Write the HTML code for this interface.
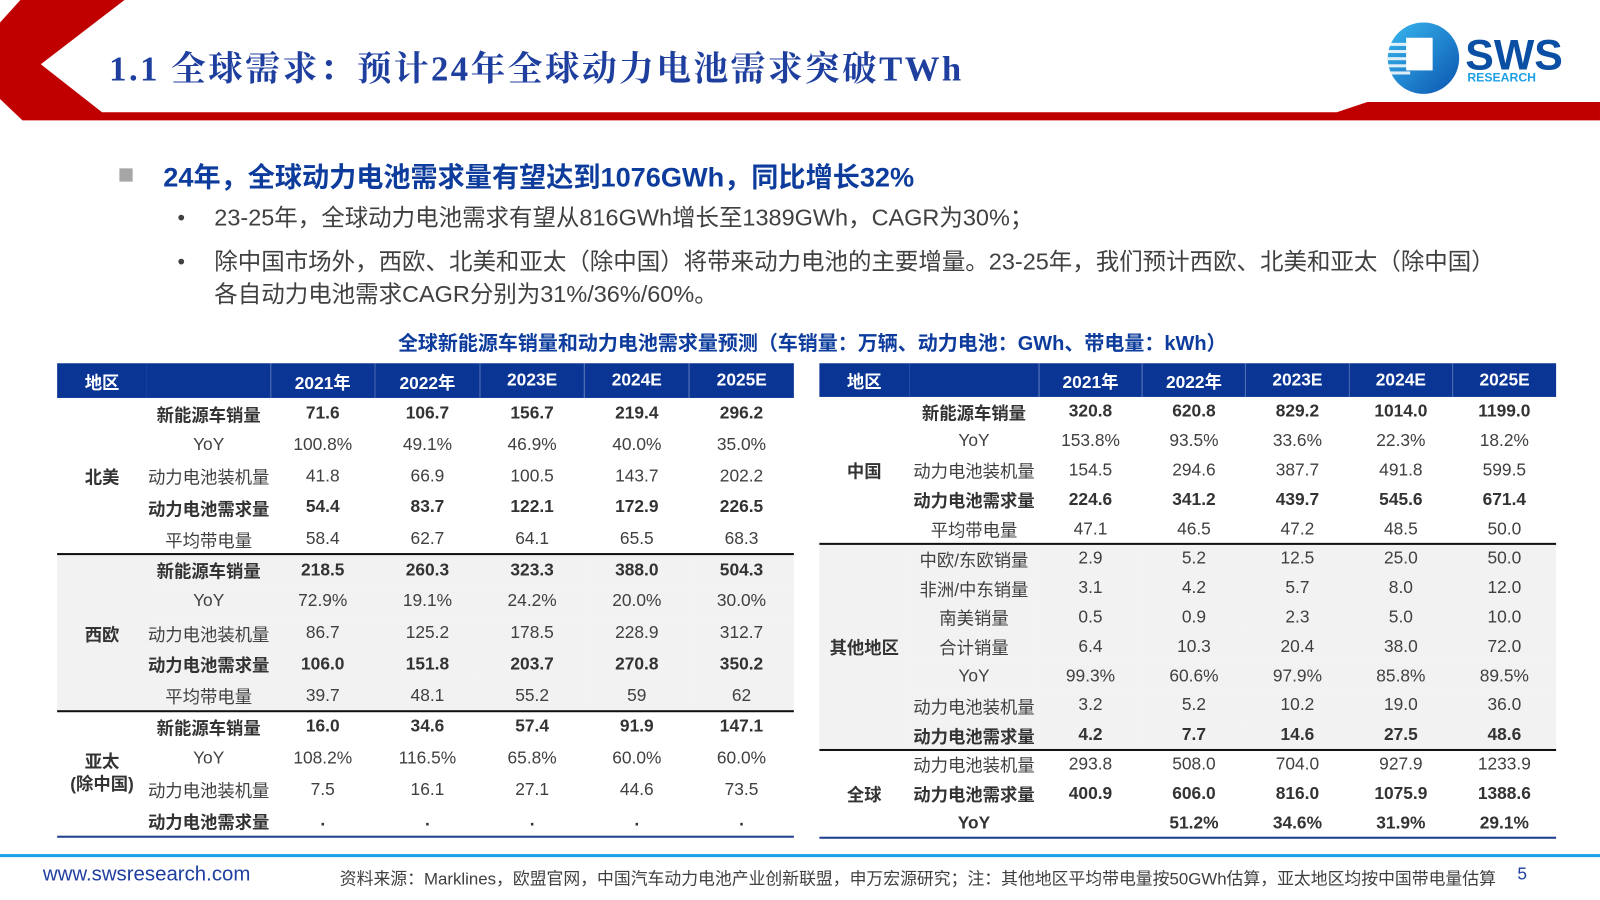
<!DOCTYPE html>
<html><head><meta charset="utf-8"><style>
*{margin:0;padding:0;box-sizing:border-box}
body{width:1600px;height:900px;position:relative;background:#fff;overflow:hidden}
#w{position:absolute;left:0;top:0;width:1568px;height:882px;transform:scale(1.0204);transform-origin:0 0;font-family:"Liberation Sans","Noto Sans CJK SC",sans-serif}
.abs{position:absolute}
table{position:absolute;border-collapse:collapse;table-layout:fixed;font-size:17px;color:#404040}
td{text-align:center;padding:0;white-space:nowrap}
tr.h td{background:#0a3595;color:#fff;font-weight:bold}
tr.h td+td+td{border-left:1px solid rgba(255,255,255,0.25)}
.b td{font-weight:bold;color:#333}
.g td{background:#f2f2f2}
td.r{font-weight:bold;color:#333}
.line{position:absolute;height:2px;background:#111}
</style></head><body><div id="w">
<svg class="abs" style="left:0;top:0" width="1568" height="120">
<polygon fill="#c00000" points="20,0 122,0 40,63 100,110 1310,110 1340,100 1568,100 1568,118 22,118 0,97 0,22"/>
<defs><linearGradient id="lg" x1="0" x2="1" y1="0" y2="1"><stop offset="0" stop-color="#39b8ef"/><stop offset="1" stop-color="#0a55b0"/></linearGradient></defs>
<circle cx="1395" cy="57" r="35" fill="url(#lg)"/>
<rect x="1378" y="37" width="26" height="32" fill="#fff"/>
<g fill="#fff" opacity="0.85"><rect x="1360" y="42" width="20" height="3"/><rect x="1360" y="49" width="20" height="3"/><rect x="1360" y="56" width="20" height="3"/><rect x="1360" y="63" width="20" height="3"/><rect x="1362" y="70" width="20" height="3"/></g>
<text x="1436" y="68" font-family="Liberation Sans" font-weight="bold" font-size="42" fill="#0a4fa3">SWS</text>
<text x="1438" y="80" font-family="Liberation Sans" font-weight="bold" font-size="12" fill="#1ea0e6">RESEARCH</text>
</svg>
<div class="abs" style="left:107px;top:40px;font-family:'Liberation Serif','Noto Serif CJK SC',serif;font-size:34px;font-weight:bold;color:#1f3f9f;letter-spacing:2.4px">1.1 全球需求：预计24年全球动力电池需求突破TWh</div>
<div class="abs" style="left:117px;top:165px;width:13px;height:13px;background:#a6a6a6"></div>
<div class="abs" style="left:160px;top:152px;font-size:26.6px;font-weight:bold;color:#0d3c9c">24年，全球动力电池需求量有望达到1076GWh，同比增长32%</div>
<div class="abs" style="left:174px;top:198px;font-size:21px;color:#404040;line-height:32px">•</div>
<div class="abs" style="left:210px;top:197px;font-size:23px;color:#404040;line-height:32px">23-25年，全球动力电池需求有望从816GWh增长至1389GWh，CAGR为30%；</div>
<div class="abs" style="left:174px;top:241px;font-size:21px;color:#404040;line-height:32px">•</div>
<div class="abs" style="left:210px;top:240px;font-size:23px;color:#404040;line-height:32px;width:1350px">除中国市场外，西欧、北美和亚太（除中国）将带来动力电池的主要增量。23-25年，我们预计西欧、北美和亚太（除中国）<br>各自动力电池需求CAGR分别为31%/36%/60%。</div>
<div class="abs" style="left:0;width:1592px;top:320px;text-align:center;font-size:19.6px;font-weight:bold;color:#0d3c9c">全球新能源车销量和动力电池需求量预测（车销量：万辆、动力电池：GWh、带电量：kWh）</div>

<table style="left:56px;top:356px;width:722px">
<colgroup><col style="width:88px"><col style="width:121px"><col span="5" style="width:102.6px"></colgroup>
<tr class="h" style="height:34px"><td>地区</td><td></td><td>2021年</td><td>2022年</td><td>2023E</td><td>2024E</td><td>2025E</td></tr>
<tr class="b" style="height:30.7px"><td class="r" rowspan="5">北美</td><td>新能源车销量</td><td>71.6</td><td>106.7</td><td>156.7</td><td>219.4</td><td>296.2</td></tr>
<tr style="height:30.7px"><td>YoY</td><td>100.8%</td><td>49.1%</td><td>46.9%</td><td>40.0%</td><td>35.0%</td></tr>
<tr style="height:30.7px"><td>动力电池装机量</td><td>41.8</td><td>66.9</td><td>100.5</td><td>143.7</td><td>202.2</td></tr>
<tr class="b" style="height:30.7px"><td>动力电池需求量</td><td>54.4</td><td>83.7</td><td>122.1</td><td>172.9</td><td>226.5</td></tr>
<tr style="height:30.7px"><td>平均带电量</td><td>58.4</td><td>62.7</td><td>64.1</td><td>65.5</td><td>68.3</td></tr>
<tr class="b g" style="height:30.7px"><td class="r" rowspan="5" style="background:#f2f2f2">西欧</td><td>新能源车销量</td><td>218.5</td><td>260.3</td><td>323.3</td><td>388.0</td><td>504.3</td></tr>
<tr class="g" style="height:30.7px"><td>YoY</td><td>72.9%</td><td>19.1%</td><td>24.2%</td><td>20.0%</td><td>30.0%</td></tr>
<tr class="g" style="height:30.7px"><td>动力电池装机量</td><td>86.7</td><td>125.2</td><td>178.5</td><td>228.9</td><td>312.7</td></tr>
<tr class="b g" style="height:30.7px"><td>动力电池需求量</td><td>106.0</td><td>151.8</td><td>203.7</td><td>270.8</td><td>350.2</td></tr>
<tr class="g" style="height:30.7px"><td>平均带电量</td><td>39.7</td><td>48.1</td><td>55.2</td><td>59</td><td>62</td></tr>
<tr class="b" style="height:30.7px"><td class="r" rowspan="4" style="line-height:22px">亚太<br>(除中国)</td><td>新能源车销量</td><td>16.0</td><td>34.6</td><td>57.4</td><td>91.9</td><td>147.1</td></tr>
<tr style="height:30.7px"><td>YoY</td><td>108.2%</td><td>116.5%</td><td>65.8%</td><td>60.0%</td><td>60.0%</td></tr>
<tr style="height:30.7px"><td>动力电池装机量</td><td>7.5</td><td>16.1</td><td>27.1</td><td>44.6</td><td>73.5</td></tr>
<tr class="b" style="height:30.7px"><td>动力电池需求量</td><td>.</td><td>.</td><td>.</td><td>.</td><td>.</td></tr>
</table>
<div class="line" style="left:56px;top:542px;width:722px"></div>
<div class="line" style="left:56px;top:696px;width:722px"></div>
<div class="line" style="left:56px;top:819px;width:722px;background:#1f3f8f"></div>

<table style="left:803px;top:356px;width:722px">
<colgroup><col style="width:88px"><col style="width:127px"><col span="5" style="width:101.4px"></colgroup>
<tr class="h" style="height:33px"><td>地区</td><td></td><td>2021年</td><td>2022年</td><td>2023E</td><td>2024E</td><td>2025E</td></tr>
<tr class="b" style="height:28.8px"><td class="r" rowspan="5">中国</td><td>新能源车销量</td><td>320.8</td><td>620.8</td><td>829.2</td><td>1014.0</td><td>1199.0</td></tr>
<tr style="height:28.8px"><td>YoY</td><td>153.8%</td><td>93.5%</td><td>33.6%</td><td>22.3%</td><td>18.2%</td></tr>
<tr style="height:28.8px"><td>动力电池装机量</td><td>154.5</td><td>294.6</td><td>387.7</td><td>491.8</td><td>599.5</td></tr>
<tr class="b" style="height:28.8px"><td>动力电池需求量</td><td>224.6</td><td>341.2</td><td>439.7</td><td>545.6</td><td>671.4</td></tr>
<tr style="height:28.8px"><td>平均带电量</td><td>47.1</td><td>46.5</td><td>47.2</td><td>48.5</td><td>50.0</td></tr>
<tr class="g" style="height:28.8px"><td class="r" rowspan="7" style="background:#f2f2f2">其他地区</td><td>中欧/东欧销量</td><td>2.9</td><td>5.2</td><td>12.5</td><td>25.0</td><td>50.0</td></tr>
<tr class="g" style="height:28.8px"><td>非洲/中东销量</td><td>3.1</td><td>4.2</td><td>5.7</td><td>8.0</td><td>12.0</td></tr>
<tr class="g" style="height:28.8px"><td>南美销量</td><td>0.5</td><td>0.9</td><td>2.3</td><td>5.0</td><td>10.0</td></tr>
<tr class="g" style="height:28.8px"><td>合计销量</td><td>6.4</td><td>10.3</td><td>20.4</td><td>38.0</td><td>72.0</td></tr>
<tr class="g" style="height:28.8px"><td>YoY</td><td>99.3%</td><td>60.6%</td><td>97.9%</td><td>85.8%</td><td>89.5%</td></tr>
<tr class="g" style="height:28.8px"><td>动力电池装机量</td><td>3.2</td><td>5.2</td><td>10.2</td><td>19.0</td><td>36.0</td></tr>
<tr class="b g" style="height:28.8px"><td>动力电池需求量</td><td>4.2</td><td>7.7</td><td>14.6</td><td>27.5</td><td>48.6</td></tr>
<tr style="height:28.8px"><td class="r" rowspan="3">全球</td><td>动力电池装机量</td><td>293.8</td><td>508.0</td><td>704.0</td><td>927.9</td><td>1233.9</td></tr>
<tr class="b" style="height:28.8px"><td>动力电池需求量</td><td>400.9</td><td>606.0</td><td>816.0</td><td>1075.9</td><td>1388.6</td></tr>
<tr class="b" style="height:28.8px"><td>YoY</td><td></td><td>51.2%</td><td>34.6%</td><td>31.9%</td><td>29.1%</td></tr>
</table>
<div class="line" style="left:803px;top:532px;width:722px"></div>
<div class="line" style="left:803px;top:734px;width:722px"></div>
<div class="line" style="left:803px;top:820px;width:722px;background:#1f3f8f"></div>

<div class="abs" style="left:0;top:837px;width:1568px;height:3px;background:#1ea0e6"></div>
<div class="abs" style="left:42px;top:846px;font-size:20px;color:#1f3f9f">www.swsresearch.com</div>
<div class="abs" style="left:333px;top:848px;font-size:16.5px;color:#404040">资料来源：Marklines，欧盟官网，中国汽车动力电池产业创新联盟，申万宏源研究；注：其他地区平均带电量按50GWh估算，亚太地区均按中国带电量估算</div>
<div class="abs" style="left:1487px;top:847px;font-size:17px;color:#1f3f9f">5</div>
</div></body></html>
